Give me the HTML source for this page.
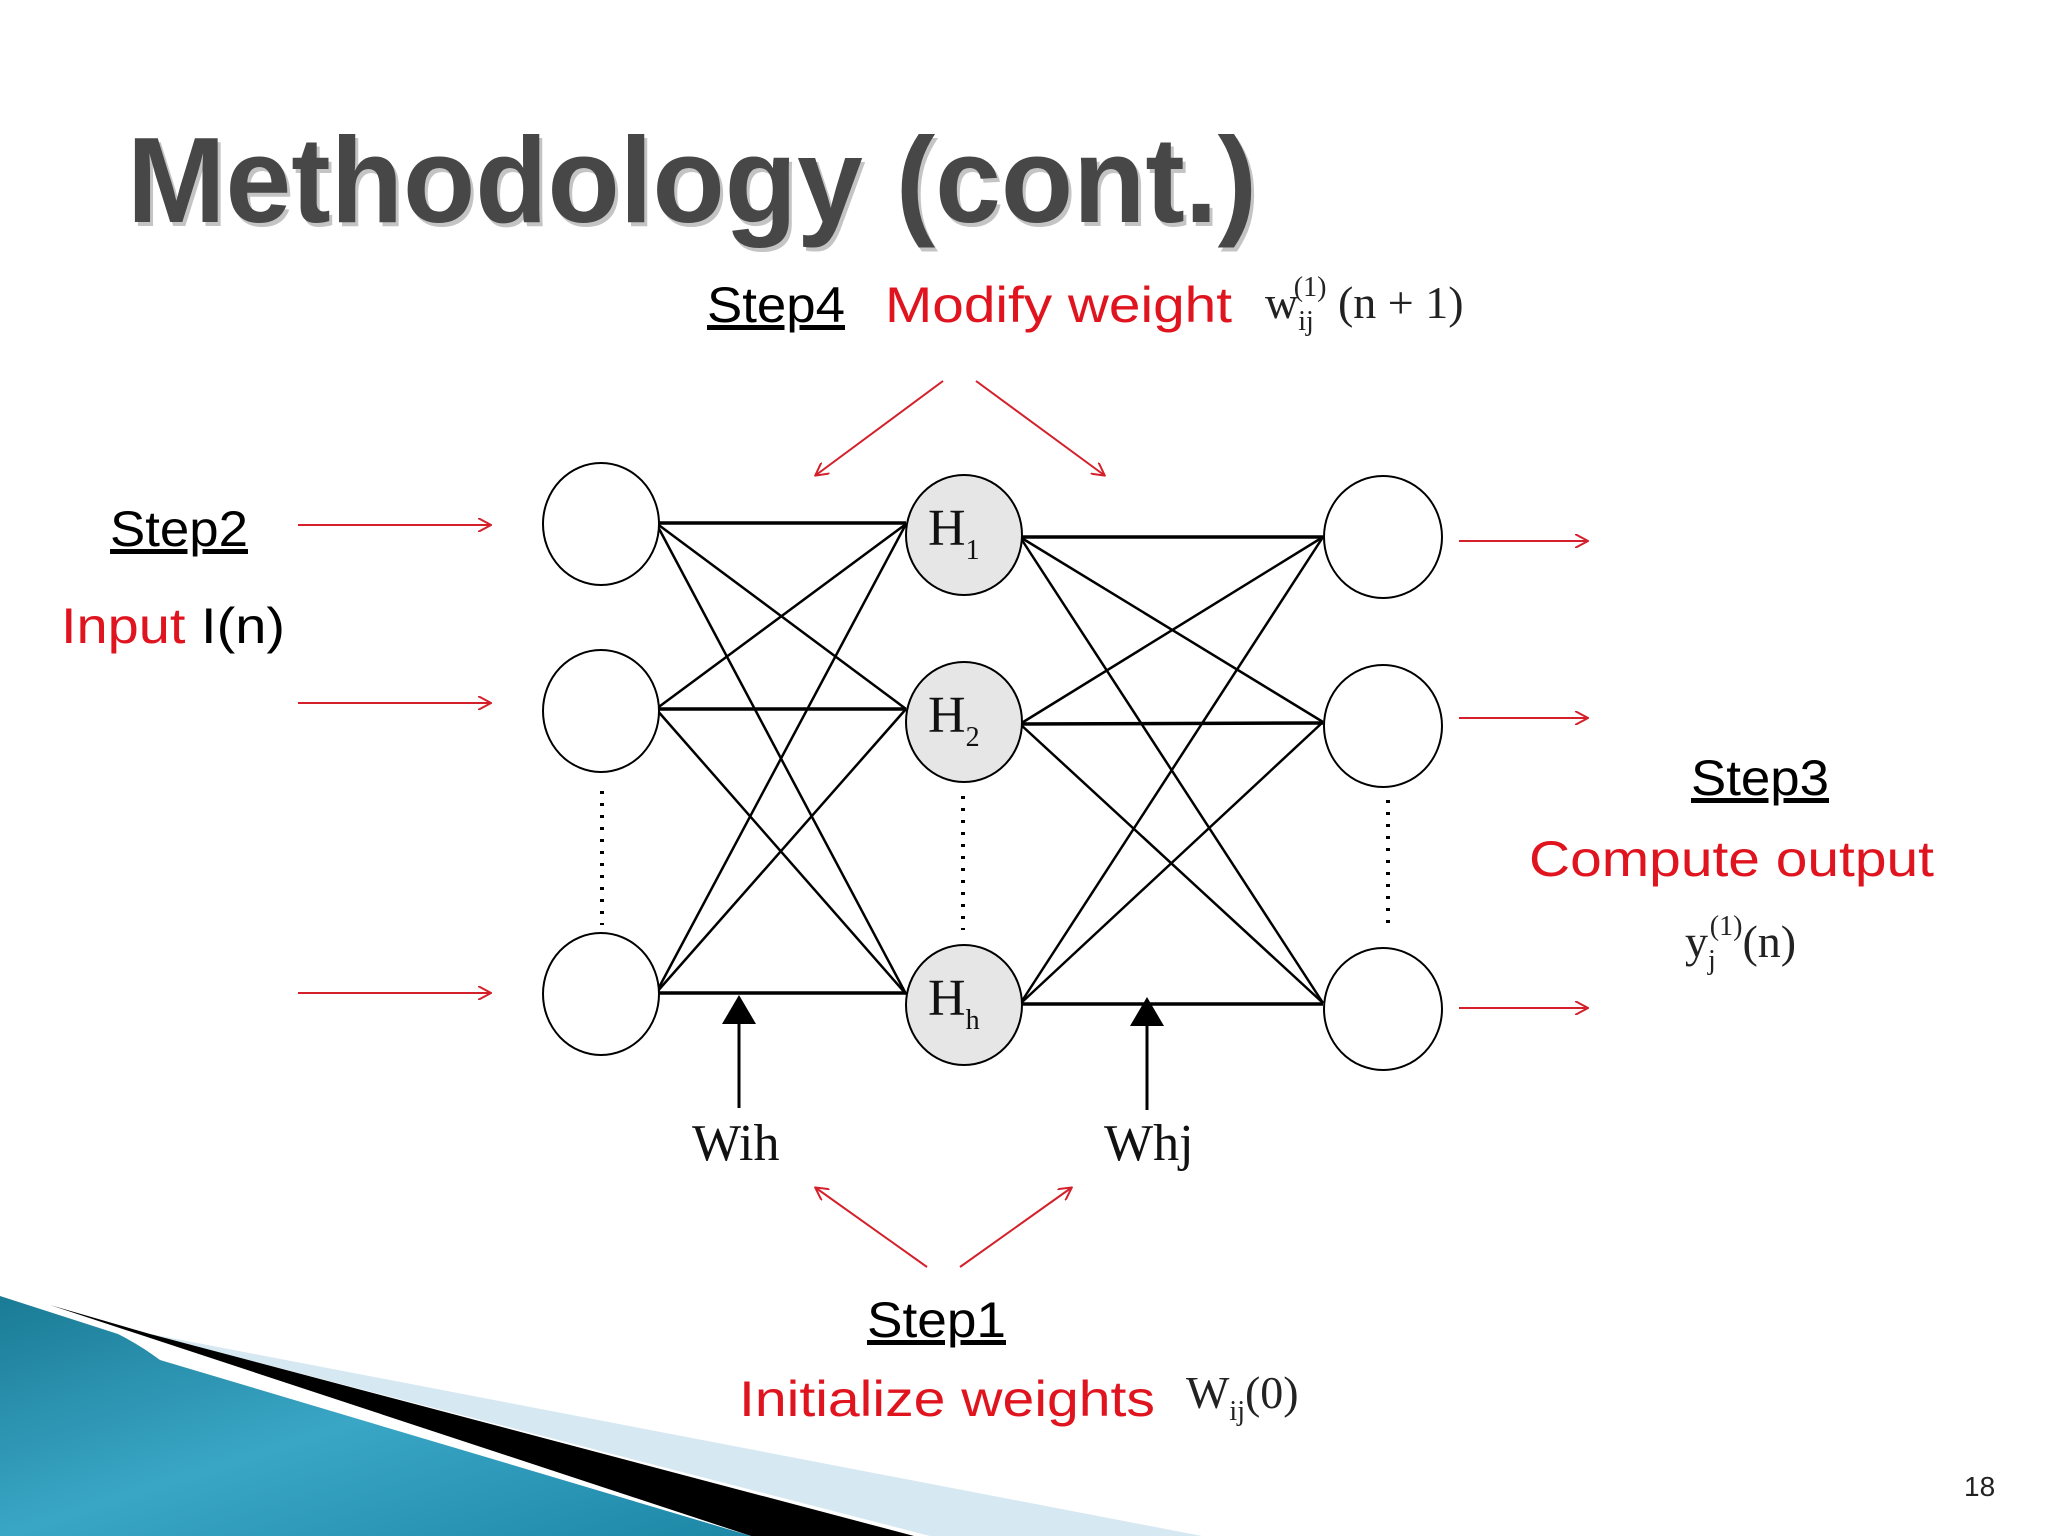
<!DOCTYPE html>
<html><head><meta charset="utf-8"><style>
html,body{margin:0;padding:0;background:#fff}
svg{display:block}
</style></head><body>
<svg width="2048" height="1536" viewBox="0 0 2048 1536" xmlns="http://www.w3.org/2000/svg">
<defs>
<linearGradient id="bl" x1="0" y1="0" x2="1" y2="1">
<stop offset="0" stop-color="#1a7b95"/><stop offset="0.5" stop-color="#3aa6c6"/><stop offset="1" stop-color="#1d87a6"/>
</linearGradient>
<marker id="ra" markerWidth="14" markerHeight="14" refX="12" refY="7" orient="auto" markerUnits="userSpaceOnUse">
<path d="M0,0 L13,7 L0,14" fill="none" stroke="#d4202a" stroke-width="2"/>
</marker>
</defs>
<rect width="2048" height="1536" fill="#fff"/>
<!-- bottom-left decoration -->
<polygon points="140,1332 1202,1536 930,1536" fill="#d6e8f1"/>
<polygon points="50,1305 150,1334 914,1536 751,1536" fill="#000"/>
<path d="M0,1296 L118,1334 Q140,1345 160,1360 L751,1536 L0,1536 Z" fill="url(#bl)"/>
<!-- title -->
<text x="127" y="222" font-family="Liberation Sans, sans-serif" font-size="122" font-weight="bold" fill="#c4c4c4" textLength="1130" lengthAdjust="spacingAndGlyphs" transform="translate(3,4)">Methodology (cont.)</text>
<text x="127" y="222" font-family="Liberation Sans, sans-serif" font-size="122" font-weight="bold" fill="#474747" textLength="1130" lengthAdjust="spacingAndGlyphs">Methodology (cont.)</text>

<g font-family="Liberation Sans, sans-serif" font-size="50">
<text x="707" y="322" fill="#000" text-decoration="underline" textLength="138" lengthAdjust="spacingAndGlyphs">Step4</text>
<text x="885" y="322" fill="#e0141e" textLength="347" lengthAdjust="spacingAndGlyphs">Modify weight</text>
<text x="110" y="546" fill="#000" text-decoration="underline" textLength="138" lengthAdjust="spacingAndGlyphs">Step2</text>
<text x="61" y="643" fill="#e0141e" textLength="224" lengthAdjust="spacingAndGlyphs">Input <tspan fill="#000">I(n)</tspan></text>
<text x="1691" y="795" fill="#000" text-decoration="underline" textLength="138" lengthAdjust="spacingAndGlyphs">Step3</text>
<text x="1529" y="876" fill="#e0141e" textLength="405" lengthAdjust="spacingAndGlyphs">Compute output</text>
<text x="867" y="1337" fill="#000" text-decoration="underline" textLength="139" lengthAdjust="spacingAndGlyphs">Step1</text>
<text x="739" y="1416" fill="#e0141e" textLength="416" lengthAdjust="spacingAndGlyphs">Initialize weights</text>
</g>
<text x="1964" y="1496" font-family="Liberation Sans, sans-serif" font-size="28" fill="#222">18</text>

<!-- math -->
<g font-family="Liberation Serif, serif" fill="#222">
<text x="1265" y="318" font-size="46">w<tspan font-size="28" dy="12">ij</tspan><tspan font-size="28" dx="-20" dy="-34">(1)</tspan><tspan font-size="46" dy="22"> (n + 1)</tspan></text>
<text x="1685" y="957" font-size="46">y<tspan font-size="28" dy="12">j</tspan><tspan font-size="28" dx="-6" dy="-34">(1)</tspan><tspan font-size="46" dy="22">(n)</tspan></text>
<text x="1186" y="1408" font-size="46">W<tspan font-size="28" dy="12">ij</tspan><tspan font-size="46" dy="-12">(0)</tspan></text>
<text x="692" y="1160" font-size="52" fill="#111">Wih</text>
<text x="1104" y="1160" font-size="52" fill="#111">Whj</text>
</g>

<!-- red arrows -->
<g stroke="#d4202a" stroke-width="2" fill="none" marker-end="url(#ra)">
<line x1="943" y1="381" x2="816" y2="475"/>
<line x1="976" y1="381" x2="1104" y2="475"/>
<line x1="298" y1="525" x2="490" y2="525"/>
<line x1="298" y1="703" x2="490" y2="703"/>
<line x1="298" y1="993" x2="490" y2="993"/>
<line x1="1459" y1="541" x2="1587" y2="541"/>
<line x1="1459" y1="718" x2="1587" y2="718"/>
<line x1="1459" y1="1008" x2="1587" y2="1008"/>
<line x1="927" y1="1267" x2="816" y2="1188"/>
<line x1="960" y1="1267" x2="1071" y2="1188"/>
</g>

<!-- network lines -->
<g stroke="#000" stroke-width="2.5">
<line x1="656" y1="523" x2="906" y2="709"/><line x1="656" y1="523" x2="906" y2="994"/>
<line x1="656" y1="709" x2="906" y2="524"/><line x1="656" y1="709" x2="906" y2="994"/>
<line x1="656" y1="993" x2="906" y2="524"/><line x1="656" y1="993" x2="906" y2="709"/>
<line x1="1020" y1="537" x2="1323" y2="722"/><line x1="1020" y1="537" x2="1323" y2="1003"/>
<line x1="1020" y1="724" x2="1323" y2="537"/><line x1="1020" y1="724" x2="1323" y2="1003"/>
<line x1="1020" y1="1004" x2="1323" y2="537"/><line x1="1020" y1="1004" x2="1323" y2="722"/>
</g>
<g stroke="#000" stroke-width="3.5">
<line x1="656" y1="523" x2="906" y2="523"/>
<line x1="656" y1="709" x2="906" y2="709"/>
<line x1="654" y1="993" x2="906" y2="993"/>
<line x1="1020" y1="537" x2="1323" y2="537"/>
<line x1="1020" y1="724" x2="1323" y2="723"/>
<line x1="1015" y1="1004" x2="1323" y2="1004"/>
</g>
<!-- nodes -->
<g stroke="#000" stroke-width="2" fill="#fff">
<ellipse cx="601" cy="524" rx="58" ry="61"/>
<ellipse cx="601" cy="711" rx="58" ry="61"/>
<ellipse cx="601" cy="994" rx="58" ry="61"/>
<ellipse cx="1383" cy="537" rx="59" ry="61"/>
<ellipse cx="1383" cy="726" rx="59" ry="61"/>
<ellipse cx="1383" cy="1009" rx="59" ry="61"/>
<g fill="#e6e6e6">
<ellipse cx="964" cy="535" rx="58" ry="60"/>
<ellipse cx="964" cy="722" rx="58" ry="60"/>
<ellipse cx="964" cy="1005" rx="58" ry="60"/>
</g>
</g>
<g font-family="Liberation Serif, serif" fill="#111">
<text x="928" y="545" font-size="52">H<tspan font-size="28" dy="14">1</tspan></text>
<text x="928" y="732" font-size="52">H<tspan font-size="28" dy="14">2</tspan></text>
<text x="928" y="1015" font-size="52">H<tspan font-size="28" dy="14">h</tspan></text>
</g>
<!-- dotted -->
<g stroke="#000" stroke-width="4" stroke-dasharray="3,9">
<line x1="602" y1="791" x2="602" y2="925"/>
<line x1="963" y1="796" x2="963" y2="930"/>
<line x1="1388" y1="800" x2="1388" y2="932"/>
</g>
<!-- black arrows -->
<line x1="739" y1="1020" x2="739" y2="1108" stroke="#000" stroke-width="3"/>
<polygon points="739,995 722,1024 756,1024" fill="#000"/>
<line x1="1147" y1="1022" x2="1147" y2="1110" stroke="#000" stroke-width="3"/>
<polygon points="1147,997 1130,1026 1164,1026" fill="#000"/>
</svg>
</body></html>
